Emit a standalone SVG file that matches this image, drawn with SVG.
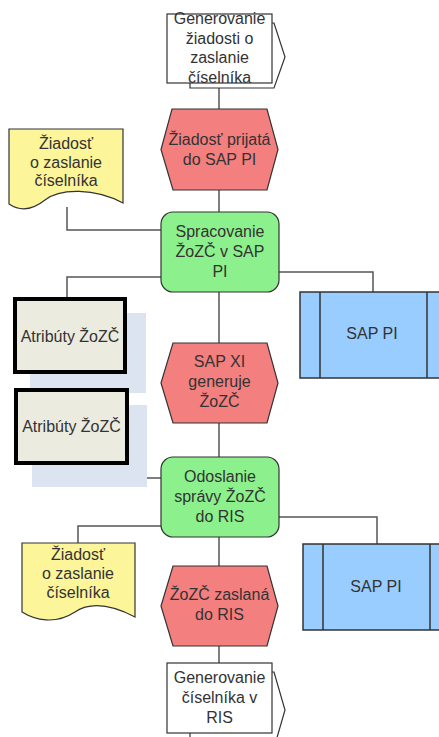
<svg xmlns="http://www.w3.org/2000/svg" width="439" height="737" viewBox="0 0 439 737">
<style>
text{font-family:"Liberation Sans",Arial,sans-serif;font-size:16px;fill:#333;text-anchor:middle}
.con{fill:none;stroke:#555;stroke-width:1.5}
.ev{fill:#f47f7f;stroke:#333;stroke-width:1.2}
.fn{fill:#8cf08c;stroke:#333;stroke-width:1.2}
.doc{fill:#fdf59a;stroke:#333;stroke-width:1.2}
.sys{fill:#99ccff;stroke:#333;stroke-width:1.5}
.att{fill:#ebebdf;stroke:#000;stroke-width:4}
.shd{fill:#dce4f2}
.pi{fill:#fff;stroke:#333;stroke-width:1.2}
</style>
<g id="connectors">
<path class="con" d="M219,83 V109"/>
<path class="con" d="M219,190 V212"/>
<path class="con" d="M67,207 V230 H161"/>
<path class="con" d="M161,277 H67 V297"/>
<path class="con" d="M279,272 H373 V292"/>
<path class="con" d="M219,292 V343"/>
<path class="con" d="M219,423 V457"/>
<path class="con" d="M73,465 V478 H161"/>
<path class="con" d="M161,526 H78 V543"/>
<path class="con" d="M279,517 H377 V544"/>
<path class="con" d="M219,537 V566"/>
<path class="con" d="M219,646 V663"/>
</g>
<g id="pi1">
<path class="pi" d="M190,23 H274 L285,57 L274,88 H190 Z"/>
<rect class="pi" x="167" y="14" width="105" height="69"/>
<text x="219.5" y="24">Generovanie</text>
<text x="219.5" y="43.5">žiadosti o</text>
<text x="219.5" y="63">zaslanie</text>
<text x="219.5" y="82.5">číselníka</text>
</g>
<g id="ev1">
<polygon class="ev" points="172,109 267,109 278,149.5 267,190 173,190 161,149.5"/>
<text x="219.5" y="145">Žiadosť prijatá</text>
<text x="219.5" y="165">do SAP PI</text>
</g>
<g id="doc1">
<path class="doc" d="M9,129 H123 V203 C95,188 60,188 45,200 C30,212 18,210 9,204 Z"/>
<text x="66" y="149">Žiadosť</text>
<text x="66" y="167.5">o zaslanie</text>
<text x="66" y="186">číselníka</text>
</g>
<g id="fn1">
<rect class="fn" x="161" y="212" width="118" height="80" rx="12"/>
<text x="220" y="237">Spracovanie</text>
<text x="220" y="257">ŽoZČ v SAP</text>
<text x="220" y="277">PI</text>
</g>
<g id="sys1">
<rect class="sys" x="300" y="292" width="147" height="86"/>
<path class="sys" d="M320,292 V378 M427,292 V378"/>
<text x="372" y="339">SAP PI</text>
</g>
<g id="att1">
<rect class="shd" x="30" y="313" width="116" height="80"/>
<rect class="att" x="15" y="299" width="110" height="73"/>
<text x="70" y="342">Atribúty ŽoZČ</text>
</g>
<g id="att2">
<rect class="shd" x="32" y="405" width="115" height="82"/>
<rect class="att" x="16" y="390" width="111" height="73"/>
<text x="71.5" y="432">Atribúty ŽoZČ</text>
</g>
<g id="ev2">
<polygon class="ev" points="173,343 267,343 278,383 267,423 173,423 161,383"/>
<text x="219.5" y="367">SAP XI</text>
<text x="219.5" y="387">generuje</text>
<text x="219.5" y="407">ŽoZČ</text>
</g>
<g id="fn2">
<rect class="fn" x="161" y="457" width="118" height="80" rx="12"/>
<text x="220" y="482">Odoslanie</text>
<text x="220" y="502">správy ŽoZČ</text>
<text x="220" y="522">do RIS</text>
</g>
<g id="doc2">
<path class="doc" d="M22,543 H135 V617 C110,604 90,602 75,612 C55,625 35,620 22,612 Z"/>
<text x="78" y="560">Žiadosť</text>
<text x="78" y="579">o zaslanie</text>
<text x="78" y="598">číselníka</text>
</g>
<g id="sys2">
<rect class="sys" x="303" y="544" width="147" height="86"/>
<path class="sys" d="M323,544 V630 M430,544 V630"/>
<text x="376" y="592">SAP PI</text>
</g>
<g id="ev3">
<polygon class="ev" points="173,566 267,566 278,606 267,646 173,646 161,606"/>
<text x="219.5" y="600">ŽoZČ zaslaná</text>
<text x="219.5" y="620">do RIS</text>
</g>
<g id="pi2">
<path class="pi" d="M190,672 H274 L285,710 L274,748 H190 Z"/>
<rect class="pi" x="167" y="663" width="105" height="70"/>
<text x="219.5" y="683">Generovanie</text>
<text x="219.5" y="703">číselníka v</text>
<text x="219.5" y="723">RIS</text>
</g>
</svg>
